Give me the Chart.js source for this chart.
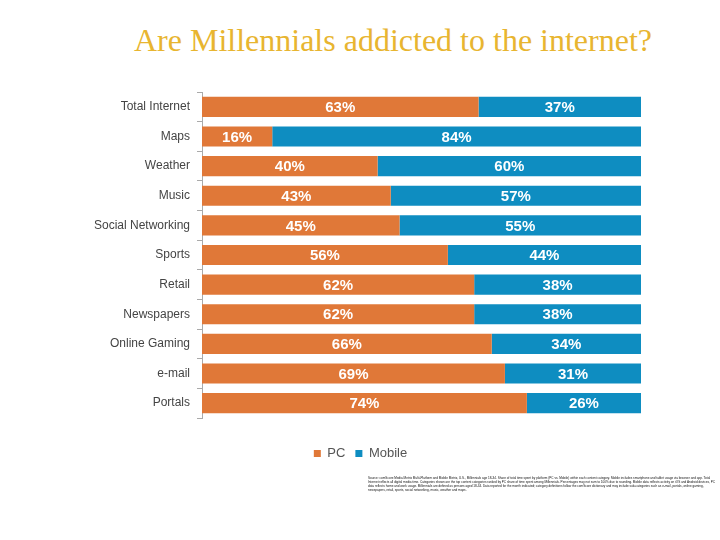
<!DOCTYPE html>
<html>
<head>
<meta charset="utf-8">
<script src="https://cdn.jsdelivr.net/npm/chart.js@4"></script>
<style>
  html, body { margin: 0; padding: 0; background: #fff; }
  #wrap { position: relative; width: 720px; height: 540px; overflow: hidden; }
  #title { position: absolute; left: 0; top: 22px; width: 786px; text-align: center;
           font-family: "Liberation Serif", "Times New Roman", serif; font-size: 32px; color: #e8b530; }
  #chart { position: absolute; left: 0; top: 0; }
  #note { position: absolute; left: 368px; top: 477px; width: 352px; font-family: Arial, "Liberation Sans", sans-serif;
          font-size: 3.1px; line-height: 3.9px; color: #111; }
</style>
</head>
<body>
<div id="wrap">
  <div id="title">Are Millennials addicted to the internet?</div>
  <canvas id="chart" width="720" height="540"></canvas>
  <div id="note">Source: comScore Media Metrix Multi-Platform and Mobile Metrix, U.S., Millennials age 18-34. Share of total time spent by platform (PC vs. Mobile) within each content category. Mobile includes smartphone and tablet usage via browser and app. Total Internet reflects all digital media time. Categories shown are the top content categories ranked by PC share of time spent among Millennials. Percentages may not sum to 100% due to rounding. Mobile data reflects activity on iOS and Android devices, PC data reflects home and work usage. Millennials are defined as persons aged 18-34. Data reported for the month indicated; category definitions follow the comScore dictionary and may include sub-categories such as e-mail, portals, online gaming, newspapers, retail, sports, social networking, music, weather and maps.</div>
</div>
<script>
// Millennials: share of time spent, PC vs Mobile, per category

var categories = ['Total Internet', 'Maps', 'Weather', 'Music', 'Social Networking', 'Sports',
                  'Retail', 'Newspapers', 'Online Gaming', 'e-mail', 'Portals'];
var pcShare     = [63, 16, 40, 43, 45, 56, 62, 62, 66, 69, 74];
var mobileShare = [37, 84, 60, 57, 55, 44, 38, 38, 34, 31, 26];

var ORANGE = '#e07838';
var BLUE   = '#0e8dc1';

// white % labels in the middle of each segment
var barLabels = {
  id: 'barLabels',
  afterDatasetsDraw: function(chart) {
    var ctx = chart.ctx;
    ctx.save();
    ctx.fillStyle = '#ffffff';
    ctx.font = 'bold 15px Arial, "Liberation Sans", sans-serif';
    ctx.textAlign = 'center';
    ctx.textBaseline = 'middle';
    chart.data.datasets.forEach(function(ds, di) {
      chart.getDatasetMeta(di).data.forEach(function(bar, i) {
        var x = (bar.x + bar.base) / 2;
        ctx.fillText(ds.data[i] + '%', x, bar.y + 1);
      });
    });
    ctx.restore();
  }
};

new Chart(document.getElementById('chart').getContext('2d'), {
  type: 'bar',
  data: {
    labels: categories,
    datasets: [
      { label: 'PC',     data: pcShare,     backgroundColor: ORANGE, barPercentage: 0.68, categoryPercentage: 1 },
      { label: 'Mobile', data: mobileShare, backgroundColor: BLUE,   barPercentage: 0.68, categoryPercentage: 1 }
    ]
  },
  options: {
    indexAxis: 'y',
    responsive: false,
    animation: false,
    layout: { padding: { left: 80, right: 79, top: 92, bottom: 70 } },
    plugins: {
      legend: {
        position: 'bottom',
        labels: {
          color: '#555', boxWidth: 7, boxHeight: 7, padding: 10,
          font: { family: 'Arial, "Liberation Sans", sans-serif', size: 13 }
        }
      },
      tooltip: { enabled: false }
    },
    scales: {
      x: {
        stacked: true, min: 0, max: 100,
        afterFit: function(s) { s.height = 19; },
        ticks: { display: false }, grid: { display: false }, border: { display: false }
      },
      y: {
        stacked: true,
        afterFit: function(s) { s.width = 122; },
        border: { color: '#aaa', width: 1 },
        grid: { offset: true, drawOnChartArea: false, tickLength: 5, color: '#aaa' },
        ticks: { color: '#444', padding: 7, font: { family: 'Arial, "Liberation Sans", sans-serif', size: 12 } }
      }
    }
  },
  plugins: [barLabels]
});
</script>
</body>
</html>
